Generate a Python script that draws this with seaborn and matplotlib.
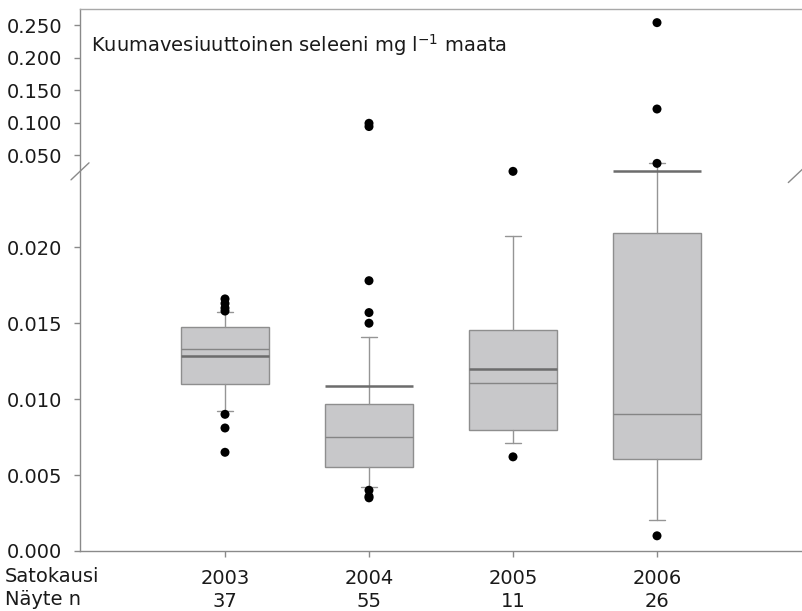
import numpy as np
import pandas as pd
import matplotlib
matplotlib.use("Agg")
import matplotlib.pyplot as plt
from matplotlib.ticker import FixedLocator, FixedFormatter, NullLocator
import seaborn as sns

# ---- data -------------------------------------------------------------
years = ["2003", "2004", "2005", "2006"]
n_samples = [37, 55, 11, 26]

q1 = [0.01100, 0.00555, 0.00794, 0.00603]
q3 = [0.01474, 0.00967, 0.01454, 0.02096]
medians = [0.01331, 0.00748, 0.01103, 0.00899]
means = [0.01287, 0.01088, 0.01199, 0.02500]
whisker_low = [0.00921, 0.00423, 0.00708, 0.00204]
whisker_high = [0.01577, 0.01410, 0.02075, 0.03720]

outliers_2003 = [0.0166, 0.0163, 0.0160, 0.0158, 0.0090, 0.0081, 0.0065]
outliers_2004 = [0.0990, 0.0940, 0.0178, 0.0157, 0.0150, 0.0040, 0.0036, 0.0035]
outliers_2005 = [0.0250, 0.0062]
outliers_2006 = [0.2540, 0.1210, 0.0373, 0.0010]

y_ticks = [0.000, 0.005, 0.010, 0.015, 0.020, 0.050, 0.100, 0.150, 0.200, 0.250]

# ---- broken y axis: linear below the break, compressed above ----------
BREAK = 0.025
SQUEEZE = 650.0 / 15200.0
Y_TOP = 0.275


def forward(v):
    v = np.asarray(v, dtype=float)
    return np.where(v <= BREAK, v, BREAK + (v - BREAK) * SQUEEZE)


def inverse(u):
    u = np.asarray(u, dtype=float)
    return np.where(u <= BREAK, u, BREAK + (u - BREAK) / SQUEEZE)


sns.set_style("ticks")
plt.rcParams["font.family"] = ["DejaVu Sans"]

FS = 14.0
TEXT = "#1a1a1a"
AXIS_GREY = "#8a8a8a"

fig = plt.figure(figsize=(8.02, 6.11), dpi=100)
ax = fig.add_axes([80 / 802, 60 / 611, 722 / 802, 542 / 611])
ax.set_yscale("function", functions=(forward, inverse))

stats = [
    dict(label=y, q1=a, med=m, q3=b, whislo=lo, whishi=hi, mean=mu, fliers=[])
    for y, a, m, b, lo, hi, mu in zip(years, q1, medians, q3,
                                     whisker_low, whisker_high, means)
]
positions = np.arange(len(years))
ax.bxp(
    stats, positions=positions, widths=0.61, capwidths=0.11,
    showmeans=True, meanline=True, showfliers=False, patch_artist=True,
    boxprops=dict(facecolor="#c8c8ca", edgecolor="#8e8e8e", linewidth=1.0),
    whiskerprops=dict(color="#959595", linewidth=1.0),
    capprops=dict(color="#959595", linewidth=1.0),
    medianprops=dict(color="#858585", linewidth=1.0),
    meanprops=dict(color="#6c6c6c", linewidth=1.8, linestyle="-"),
)

# outlying observations as black dots
groups = [outliers_2003, outliers_2004, outliers_2005, outliers_2006]
flier_df = pd.DataFrame({
    "pos": np.concatenate([[p] * len(g) for p, g in zip(positions, groups)]),
    "value": np.concatenate(groups),
})
sns.scatterplot(data=flier_df, x="pos", y="value", color="black", s=42,
                edgecolor="none", ax=ax, zorder=5, legend=False)

ax.set_xlim(-1.007, 4.007)
ax.set_ylim(0.0, Y_TOP)
ax.set_xlabel("")
ax.set_ylabel("")

ax.yaxis.set_major_locator(FixedLocator(y_ticks))
ax.yaxis.set_major_formatter(FixedFormatter([f"{t:.3f}" for t in y_ticks]))
ax.yaxis.set_minor_locator(NullLocator())

XPAD = 9.0
LSP = 1.24
ax.set_xticks(positions)
ax.set_xticklabels([f"{y}\n{n}" for y, n in zip(years, n_samples)],
                   linespacing=LSP)
ax.tick_params(axis="x", direction="out", length=4, width=1.0,
               color=AXIS_GREY, labelsize=FS, labelcolor=TEXT, pad=XPAD)
ax.tick_params(axis="y", direction="out", length=4, width=1.0,
               color=AXIS_GREY, labelsize=FS, labelcolor=TEXT, pad=9)

for side in ("left", "bottom", "top"):
    ax.spines[side].set_color(AXIS_GREY)
    ax.spines[side].set_linewidth(1.0)
ax.spines["right"].set_visible(False)
ax.spines["top"].set_color("#a8a8a8")

# break marks on the y axis
break_frac = float(forward(BREAK) / forward(Y_TOP))
dx, dy = 9 / 722, 8.5 / 542
for x0, shift in ((0.0, 0.0), (0.9935, 0.005)):
    ax.plot([x0 - dx, x0 + dx],
            [break_frac - dy - shift, break_frac + dy - shift],
            transform=ax.transAxes, color="#8a8a8a", lw=1.0, clip_on=False)

ax.text(11 / 722, (551 - 52) / 542,
        "Kuumavesiuuttoinen seleeni mg l$^{\\mathregular{-1}}$ maata",
        transform=ax.transAxes, ha="left", va="baseline",
        fontsize=FS, color=TEXT)

label_top = 551 + 4 + XPAD * 100 / 72
fig.text(5 / 802, 1 - label_top / 611, "Satokausi\nNäyte n",
         ha="left", va="top", fontsize=FS, color=TEXT, linespacing=LSP)

fig.savefig("out.png", dpi=100)
